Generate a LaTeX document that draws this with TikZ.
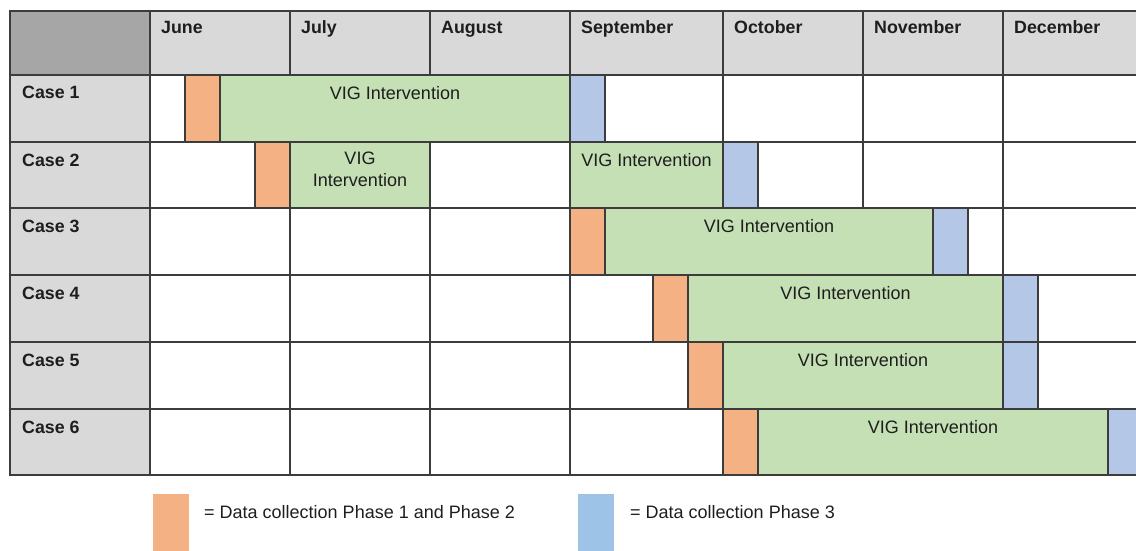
\documentclass[tikz,border=0pt]{standalone}
\usepackage{fontspec}
\setmainfont{Liberation Sans}
\definecolor{linegray}{HTML}{3C3C3C}
\definecolor{hdrgray}{HTML}{D9D9D9}
\definecolor{cornergray}{HTML}{A6A6A6}
\definecolor{phaseA}{HTML}{F4B183}
\definecolor{phaseB}{HTML}{B4C7E7}
\definecolor{legendB}{HTML}{9DC3E6}
\definecolor{vig}{HTML}{C5E0B4}
\definecolor{ink}{HTML}{1E1E1E}
% bar: name, x from, x to, row top, row bottom, fill
\newcommand\blk[6]{%
  \node[cell, fill=#6, minimum width={(#3-#2)*1pt}, minimum height={(#5-#4)*1pt}] (#1) at (#2,#4) {};}
\begin{document}
\begin{tikzpicture}[x=1pt,y=-1pt,
  cell/.style={draw=linegray, line width=1.4pt, anchor=north west, inner sep=0pt, outer sep=0pt},
  hdr/.style={font=\bfseries\fontsize{17.8}{20}\selectfont, text=ink, anchor=base west, inner sep=0pt},
  lbl/.style={font=\fontsize{18}{22}\selectfont, text=ink, anchor=north, inner sep=0pt, align=center},
  legtxt/.style={font=\fontsize{18}{22}\selectfont, text=ink, anchor=base west, inner sep=0pt},
]
\useasboundingbox (0,0) rectangle (1136,551);
\clip (0,0) rectangle (1136,551);

% header row
\node[cell, fill=cornergray, minimum width=140pt, minimum height=64pt] (corner) at (10,11) {};
\foreach \m/\a/\e/\name in {1/150/290/June, 2/290/430/July, 3/430/570/August,
    4/570/723/September, 5/723/863/October, 6/863/1003/November, 7/1003/1150/December} {
  \node[cell, fill=hdrgray, minimum width={(\e-\a)*1pt}, minimum height=64pt] (month\m) at (\a,11) {};
  \path (month\m.north west) ++(11,23) node[hdr] (month\m-t) {\name};
}

% case rows with empty month cells
\foreach \r/\t/\b in {1/75/142, 2/142/208, 3/208/275, 4/275/342, 5/342/409, 6/409/475} {
  \node[cell, fill=hdrgray, minimum width=140pt, minimum height={(\b-\t)*1pt}] (case\r) at (10,\t) {};
  \path (case\r.north west) ++(12,24) node[hdr] (case\r-t) {Case \r};
  \foreach \m/\a/\e in {1/150/290, 2/290/430, 3/430/570, 4/570/723, 5/723/863, 6/863/1003, 7/1003/1150} {
    \node[cell, fill=white, minimum width={(\e-\a)*1pt}, minimum height={(\b-\t)*1pt}] (c\r-\m) at (\a,\t) {};
  }
}

% Case 1
\blk{o1}{185}{220}{75}{142}{phaseA}
\blk{g1}{220}{570}{75}{142}{vig}
\blk{b1}{570}{605}{75}{142}{phaseB}
% Case 2
\blk{o2}{255}{290}{142}{208}{phaseA}
\blk{g2a}{290}{430}{142}{208}{vig}
\blk{g2b}{570}{723}{142}{208}{vig}
\blk{b2}{723}{758}{142}{208}{phaseB}
% Case 3
\blk{o3}{570}{605}{208}{275}{phaseA}
\blk{g3}{605}{933}{208}{275}{vig}
\blk{b3}{933}{968}{208}{275}{phaseB}
% Case 4
\blk{o4}{653}{688}{275}{342}{phaseA}
\blk{g4}{688}{1003}{275}{342}{vig}
\blk{b4}{1003}{1038}{275}{342}{phaseB}
% Case 5
\blk{o5}{688}{723}{342}{409}{phaseA}
\blk{g5}{723}{1003}{342}{409}{vig}
\blk{b5}{1003}{1038}{342}{409}{phaseB}
% Case 6
\blk{o6}{723}{758}{409}{475}{phaseA}
\blk{g6}{758}{1108}{409}{475}{vig}
\blk{b6}{1108}{1150}{409}{475}{phaseB}

% intervention labels
\path (g1.north)  ++(0,11) node[lbl] (g1-t)  {VIG Intervention};
\path (g2a.north) ++(0,10) node[lbl] (g2a-t) {VIG\\Intervention};
\path (g2b.north) ++(0,11) node[lbl] (g2b-t) {VIG Intervention};
\path (g3.north)  ++(0,11) node[lbl] (g3-t)  {VIG Intervention};
\path (g4.north)  ++(0,11) node[lbl] (g4-t)  {VIG Intervention};
\path (g5.north)  ++(0,11) node[lbl] (g5-t)  {VIG Intervention};
\path (g6.north)  ++(0,11) node[lbl] (g6-t)  {VIG Intervention};

% legend
\node[fill=phaseA, anchor=north west, inner sep=0pt, minimum width=36pt, minimum height=70pt] (keyA) at (153,494) {};
\node[legtxt] (keyA-t) at (204,518.5) {= Data collection Phase 1 and Phase 2};
\node[fill=legendB, anchor=north west, inner sep=0pt, minimum width=36pt, minimum height=70pt] (keyB) at (578,494) {};
\node[legtxt] (keyB-t) at (630,518.5) {= Data collection Phase 3};
\end{tikzpicture}
\end{document}
